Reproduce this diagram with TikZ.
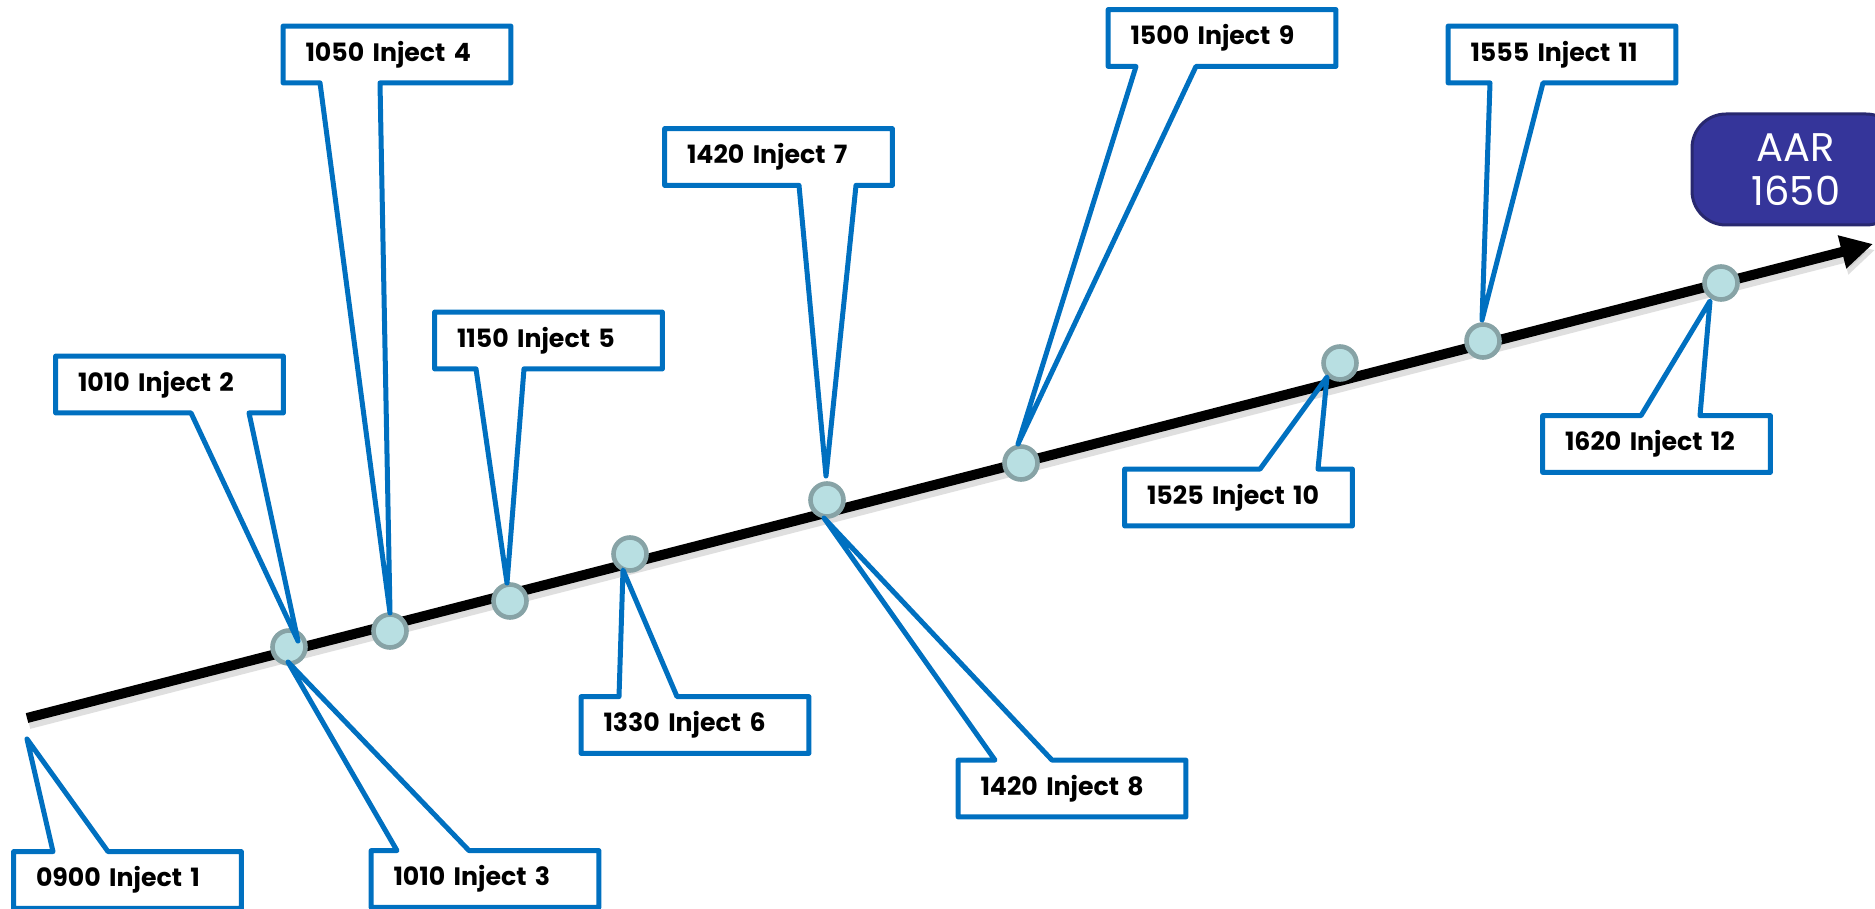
\documentclass[tikz,border=0pt]{standalone}
\usepackage{fontspec}
\setmainfont{Poppins}
\usetikzlibrary{arrows.meta}
\definecolor{cblue}{HTML}{0070C0}
\definecolor{dotfill}{HTML}{B8DFE2}
\definecolor{dotline}{HTML}{87A3A6}
\definecolor{aarfill}{HTML}{35359A}
\definecolor{aarline}{HTML}{28286F}
\newcommand\calltop[4]{\draw[cline] (#1.south west) -- (#1.north west) -- (#2,0 |- #1.north) -- (#4) -- (#3,0 |- #1.north) -- (#1.north east) -- (#1.south east) -- cycle;}
\newcommand\callbot[4]{\draw[cline] (#1.north west) -- (#1.north east) -- (#1.south east) -- (#3,0 |- #1.south) -- (#4) -- (#2,0 |- #1.south) -- (#1.south west) -- cycle;}
\begin{document}
\begin{tikzpicture}[x=0.5pt,y=-0.5pt,
  cbox/.style={minimum width=113.5pt, minimum height=28pt, text width=91.5pt, inner xsep=11pt, inner ysep=0pt, align=left, font=\bfseries\fontsize{12.6}{14}\selectfont},
  cline/.style={draw=cblue, line width=2.5pt, line join=round},
  dot/.style={circle, minimum size=16.5pt, inner sep=0pt, fill=dotfill, draw=dotline, line width=2.3pt},
  tl/.style={line width=5pt, -{Triangle[length=16pt,width=16pt]}}]
\useasboundingbox (0,0) rectangle (1875,909);
% timeline
\coordinate (ts) at (27,718);
\coordinate (te) at (1873,244);
\draw[tl, draw=black!25, fill=black!25, opacity=0.5] ([shift={(2,6)}]ts) -- ([shift={(2,6)}]te);
\draw[tl] (ts) -- (te);
% dots
\node[dot] (c1) at (289,647) {};
\node[dot] (c2) at (390,631) {};
\node[dot] (c3) at (510,601) {};
\node[dot] (c4) at (630,554) {};
\node[dot] (c5) at (827,500) {};
\node[dot] (c6) at (1021,463) {};
\node[dot] (c7) at (1340,363) {};
\node[dot] (c8) at (1483,341) {};
\node[dot] (c9) at (1721,283) {};
% AAR
\node[draw=aarline, fill=aarfill, line width=1.5pt, rounded corners=17pt, minimum width=104pt, minimum height=55.5pt, text=white, align=center, font=\fontsize{20}{22}\selectfont] (aar) at (1796,169.5) {AAR\\1650};
% tips
\coordinate (t1) at (27,739);
\coordinate (t2) at (298,641);
\coordinate (t3) at (288,662);
\coordinate (t4) at (390,613);
\coordinate (t5) at (507,583);
\coordinate (t6) at (623,570);
\coordinate (t7) at (826,476);
\coordinate (t8) at (824,518);
\coordinate (t9) at (1018,444);
\coordinate (t10) at (1327,377);
\coordinate (t11) at (1482,320);
\coordinate (t12) at (1710,301);
% boxes
\node[cbox] (b1) at (127.5,880) {0900 Inject 1};
\node[cbox] (b2) at (169.5,384.5) {1010 Inject 2};
\node[cbox] (b3) at (485,879) {1010 Inject 3};
\node[cbox] (b4) at (397,54.5) {1050 Inject 4};
\node[cbox] (b5) at (548.5,340.5) {1150 Inject 5};
\node[cbox] (b6) at (695,725) {1330 Inject 6};
\node[cbox] (b7) at (778.5,157) {1420 Inject 7};
\node[cbox] (b8) at (1072,788.5) {1420 Inject 8};
\node[cbox] (b9) at (1222,38) {1500 Inject 9};
\node[cbox] (b10) at (1238.5,497.5) {1525 Inject 10};
\node[cbox] (b11) at (1562,54.5) {1555 Inject 11};
\node[cbox] (b12) at (1656.5,444) {1620 Inject 12};
% outlines
\calltop{b1}{53}{108}{t1}
\callbot{b2}{191}{249}{t2}
\calltop{b3}{397}{469}{t3}
\callbot{b4}{320}{380}{t4}
\callbot{b5}{476}{524}{t5}
\calltop{b6}{619}{677}{t6}
\callbot{b7}{799}{856}{t7}
\calltop{b8}{995}{1052}{t8}
\callbot{b9}{1136}{1196}{t9}
\calltop{b10}{1260}{1318}{t10}
\callbot{b11}{1490}{1543}{t11}
\calltop{b12}{1641}{1700}{t12}
\end{tikzpicture}
\end{document}
